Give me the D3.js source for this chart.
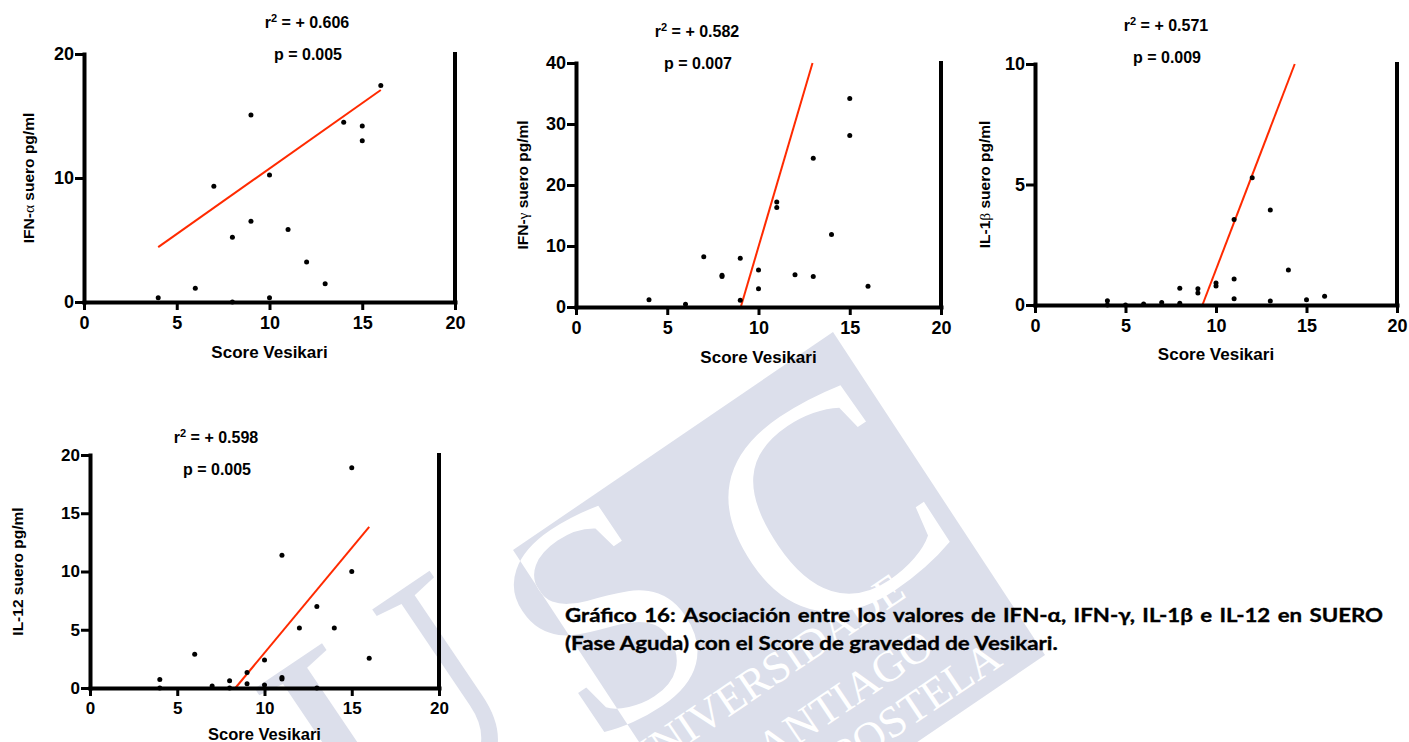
<!DOCTYPE html>
<html>
<head>
<meta charset="utf-8">
<script src="https://cdn.jsdelivr.net/npm/d3@7"></script>
<style>
  html, body { margin: 0; padding: 0; background: #ffffff; }
  svg { display: block; }
</style>
</head>
<body>
<svg id="chart" width="1409" height="742"></svg>
<script>
// Vesikari severity score on the x axis of every panel
const scoreTicks = [0, 5, 10, 15, 20];

// IFN-α (serum, pg/ml)
const ifnAlphaScore = [4, 6, 7, 8, 8, 9, 9, 10, 10, 11, 12, 13, 14, 15, 15, 16];
const ifnAlphaValue = [0.35, 1.1, 9.34, 5.23, 0, 15.09, 6.52, 10.25, 0.35, 5.85, 3.22, 1.48, 14.5, 14.2, 13.0, 17.45];
const ifnAlphaTicks = [0, 10, 20];
const ifnAlphaFit = [4, 4.43, 16, 17.1];

// IFN-γ (serum, pg/ml)
const ifnGammaScore = [4, 6, 7, 8, 8, 9, 9, 10, 10, 11, 11, 12, 13, 13, 14, 15, 15, 16];
const ifnGammaValue = [1.2, 0.44, 8.25, 5.2, 5.0, 8.0, 1.1, 6.07, 3.0, 17.2, 16.3, 5.3, 24.4, 5.0, 11.9, 34.2, 28.1, 3.4];
const ifnGammaTicks = [0, 10, 20, 30, 40];
const ifnGammaFit = [9.03, 0, 12.96, 40];

// IL-1β (serum, pg/ml)
const il1bScore = [4, 4, 5, 6, 7, 8, 8, 9, 9, 10, 10, 11, 11, 11, 12, 13, 13, 14, 15, 16];
const il1bValue = [0.18, 0, 0, 0.04, 0.1, 0.69, 0.07, 0.67, 0.5, 0.91, 0.79, 3.55, 1.08, 0.26, 5.28, 3.94, 0.17, 1.45, 0.22, 0.36];
const il1bTicks = [0, 5, 10];
const il1bFit = [9.25, 0, 14.35, 10];

// IL-12 (serum, pg/ml)
const il12Score = [4, 4, 6, 7, 8, 8, 9, 9, 10, 10, 11, 11, 11, 12, 13, 13, 14, 15, 15, 16];
const il12Value = [0.74, 0, 2.9, 0.17, 0.63, 0, 1.32, 0.37, 2.4, 0.26, 11.4, 0.9, 0.77, 5.16, 7.0, 0, 5.16, 18.9, 10.0, 2.55];
const il12Ticks = [0, 5, 10, 15, 20];
const il12Fit = [8.33, 0, 16.0, 13.84];

// Correlation statistics printed above each panel
const r2Labels = ["0.606", "0.582", "0.571", "0.598"];
const pLabels = ["0.005", "0.007", "0.009", "0.005"];

const captionLine1 = "Gráfico 16: Asociación entre los valores de IFN-α, IFN-γ, IL-1β e IL-12 en SUERO";
const captionLine2 = "(Fase Aguda) con el Score de gravedad de Vesikari.";

const svg = d3.select("#chart");
const SANS = "'Liberation Sans', Arial, Helvetica, sans-serif";
const SERIF = "'Liberation Serif', 'Times New Roman', serif";

// ---------- university watermark (drawn behind the charts) ----------
const wmFill = "#dcdfeb";
const wmSquare = [[833, 332], [1045, 655], [725, 873], [513, 550]];
svg.append("defs").append("clipPath").attr("id", "wm-clip")
  .append("polygon").attr("points", wmSquare.map(p => p.join(",")).join(" "));

function wmLettering(g, fill) {
  const big = [["U", 395, 708], ["S", 602, 612], ["C", 822, 505]];
  big.forEach(([t, x, y]) => {
    g.append("text")
      .attr("transform", `translate(${x},${y}) rotate(-34)`)
      .attr("text-anchor", "middle").attr("dy", "0.35em")
      .style("font-family", SERIF).style("font-size", "310px")
      .attr("fill", fill).text(t);
  });
  const small = [["UNIVERSIDADE", 908, 596], ["DE SANTIAGO", 936, 652], ["DE COMPOSTELA", 1004, 664]];
  small.forEach(([t, x, y]) => {
    g.append("text")
      .attr("transform", `translate(${x},${y}) rotate(-34)`)
      .attr("text-anchor", "end")
      .style("font-family", SERIF).style("font-size", "44px")
      .attr("fill", fill).text(t);
  });
}
const wm = svg.append("g").attr("class", "watermark");
wmLettering(wm.append("g"), wmFill);
wm.append("polygon").attr("points", wmSquare.map(p => p.join(",")).join(" ")).attr("fill", wmFill);
wmLettering(wm.append("g").attr("clip-path", "url(#wm-clip)"), "#ffffff");

// ---------- scatter panels ----------
const panels = [
  { pre: "IFN-", greek: "α", post: " suero pg/ml", score: ifnAlphaScore, value: ifnAlphaValue,
    yMax: 20, yTicks: ifnAlphaTicks, fit: ifnAlphaFit,
    left: 84, right: 455, bottom: 302, top: 54, tickFont: 18, titleFont: 17,
    yLabelX: 29, xLabelY: 352, statX: 307, r2Y: 22, pY: 54 },
  { pre: "IFN-", greek: "γ", post: " suero pg/ml", score: ifnGammaScore, value: ifnGammaValue,
    yMax: 40, yTicks: ifnGammaTicks, fit: ifnGammaFit,
    left: 576, right: 941, bottom: 307, top: 63, tickFont: 18, titleFont: 17,
    yLabelX: 523, xLabelY: 357, statX: 697, r2Y: 31, pY: 63 },
  { pre: "IL-1", greek: "β", post: " suero pg/ml", score: il1bScore, value: il1bValue,
    yMax: 10, yTicks: il1bTicks, fit: il1bFit,
    left: 1035, right: 1397, bottom: 305, top: 64, tickFont: 18, titleFont: 17,
    yLabelX: 985, xLabelY: 354, statX: 1166, r2Y: 25, pY: 57 },
  { pre: "IL-12", greek: "", post: " suero pg/ml", score: il12Score, value: il12Value,
    yMax: 20, yTicks: il12Ticks, fit: il12Fit,
    left: 90, right: 439, bottom: 688, top: 455, tickFont: 17, titleFont: 16.5,
    yLabelX: 18, xLabelY: 734, statX: 216, r2Y: 437, pY: 469 }
];

panels.forEach((p, i) => {
  const x = d3.scaleLinear().domain([0, 20]).range([p.left, p.right]);
  const y = d3.scaleLinear().domain([0, p.yMax]).range([p.bottom, p.top]);
  const g = svg.append("g").attr("class", "panel");

  // regression line
  g.append("line")
    .attr("x1", x(p.fit[0])).attr("y1", y(p.fit[1]))
    .attr("x2", x(p.fit[2])).attr("y2", y(p.fit[3]))
    .attr("stroke", "#ff2a00").attr("stroke-width", 2);

  // individual patients
  g.selectAll("circle.pt").data(d3.zip(p.score, p.value)).join("circle")
    .attr("class", "pt")
    .attr("cx", d => x(d[0])).attr("cy", d => y(d[1]))
    .attr("r", 2.5).attr("fill", "#000");

  // axes
  const xa = g.append("g").attr("transform", `translate(0,${p.bottom})`)
    .call(d3.axisBottom(x).tickValues(scoreTicks).tickSize(8).tickPadding(6).tickSizeOuter(0));
  const ya = g.append("g").attr("transform", `translate(${p.left},0)`)
    .call(d3.axisLeft(y).tickValues(p.yTicks).tickSize(9).tickPadding(1).tickSizeOuter(0));
  [xa, ya].forEach(a => {
    a.attr("font-family", SANS).attr("font-size", p.tickFont).attr("font-weight", "bold");
    a.select(".domain").attr("stroke", "#000").attr("stroke-width", 4).attr("stroke-linecap", "square");
    a.selectAll(".tick line").attr("stroke", "#000").attr("stroke-width", 3);
    a.selectAll(".tick text").attr("fill", "#000");
  });

  // right frame line
  g.append("line")
    .attr("x1", x(20)).attr("x2", x(20))
    .attr("y1", y(p.yMax)).attr("y2", y(0))
    .attr("stroke", "#000").attr("stroke-width", 4).attr("stroke-linecap", "square");

  // axis titles
  g.append("text")
    .attr("x", (p.left + p.right) / 2).attr("y", p.xLabelY).attr("dy", "0.35em")
    .attr("text-anchor", "middle")
    .style("font-family", SANS).style("font-weight", "bold").style("font-size", p.titleFont + "px")
    .text("Score Vesikari");

  const yl = g.append("text")
    .attr("transform", `translate(${p.yLabelX},${(p.top + p.bottom) / 2}) rotate(-90)`)
    .attr("dy", "0.35em").attr("text-anchor", "middle")
    .style("font-family", SANS).style("font-weight", "bold").style("font-size", "15.5px");
  yl.append("tspan").text(p.pre);
  if (p.greek) yl.append("tspan").style("font-family", SERIF).style("font-weight", "normal").text(p.greek);
  yl.append("tspan").text(p.post);

  // statistics
  const r2 = g.append("text")
    .attr("x", p.statX).attr("y", p.r2Y).attr("dy", "0.35em").attr("text-anchor", "middle")
    .style("font-family", SANS).style("font-weight", "bold").style("font-size", "16px");
  r2.append("tspan").text("r");
  r2.append("tspan").attr("dy", "-6").style("font-size", "11px").text("2");
  r2.append("tspan").attr("dy", "6").text(" = + " + r2Labels[i]);

  g.append("text")
    .attr("x", p.statX + 1).attr("y", p.pY).attr("dy", "0.35em").attr("text-anchor", "middle")
    .style("font-family", SANS).style("font-weight", "bold").style("font-size", "16px")
    .text("p = " + pLabels[i]);
});

// ---------- figure caption (justified first line) ----------
const capLeft = 565, capRight = 1383, capLine2Width = 493;
const capFontSize = 19.5;
const cap = svg.append("g").attr("class", "caption");
const capStyle = t => t.style("font-family", "Lato, 'Open Sans', sans-serif")
  .style("font-weight", "bold").style("font-size", capFontSize + "px")
  .attr("fill", "#000").attr("stroke", "#000").attr("stroke-width", 0.35);

const l2 = capStyle(cap.append("text").attr("x", 0).attr("y", 650).text(captionLine2));
const sx = capLine2Width / l2.node().getComputedTextLength();
cap.attr("transform", `translate(${capLeft},0) scale(${sx},1)`);

const words = captionLine1.split(" ");
const wordNodes = words.map(w => capStyle(cap.append("text").attr("y", 622).text(w)));
const widths = wordNodes.map(n => n.node().getComputedTextLength());
const target = (capRight - capLeft) / sx;
const gap = (target - d3.sum(widths)) / (words.length - 1);
let cx = 0;
wordNodes.forEach((n, k) => { n.attr("x", cx); cx += widths[k] + gap; });
</script>
</body>
</html>
